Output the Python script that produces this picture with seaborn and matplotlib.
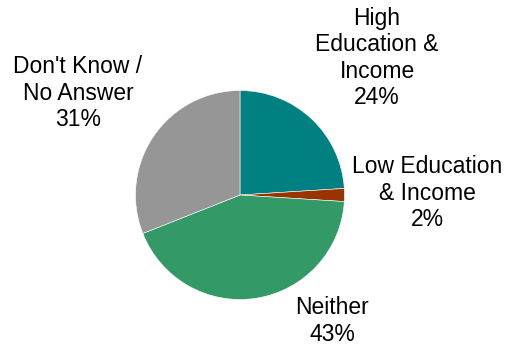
import matplotlib
matplotlib.use("Agg")
import matplotlib.pyplot as plt
import seaborn as sns

# Survey shares by group
categories = ["High\nEducation &\nIncome", "Low Education\n& Income", "Neither", "Don't Know /\nNo Answer"]
shares = [24, 2, 43, 31]
colors = ["#008080", "#993300", "#339966", "#969696"]

sns.set_theme(style="white")
plt.rcParams["font.family"] = ["Liberation Sans", "DejaVu Sans"]

W, H = 508, 347
fig = plt.figure(figsize=(W / 100, H / 100), dpi=100)

# Pie centre and radius in pixels
cx, cy, r = 240, 195, 104.5
ax = fig.add_axes([(cx - r) / W, (H - cy - r) / H, 2 * r / W, 2 * r / H])

ax.pie(shares, colors=colors, startangle=90, counterclock=False,
       wedgeprops=dict(edgecolor="white", linewidth=0.4))
ax.set_xlim(-1, 1)
ax.set_ylim(-1, 1)
ax.set_aspect("equal")
ax.axis("off")

# Label centres in pixels
label_pos = [(377, 58), (427, 193), (332, 321), (78, 93)]
for name, val, (px, py) in zip(categories, shares, label_pos):
    fig.text(px / W, 1 - py / H, f"{name}\n{val}%", ha="center", va="center",
             multialignment="center", fontsize=16.5, color="black", linespacing=1.18)

fig.savefig("out.png", dpi=100)
